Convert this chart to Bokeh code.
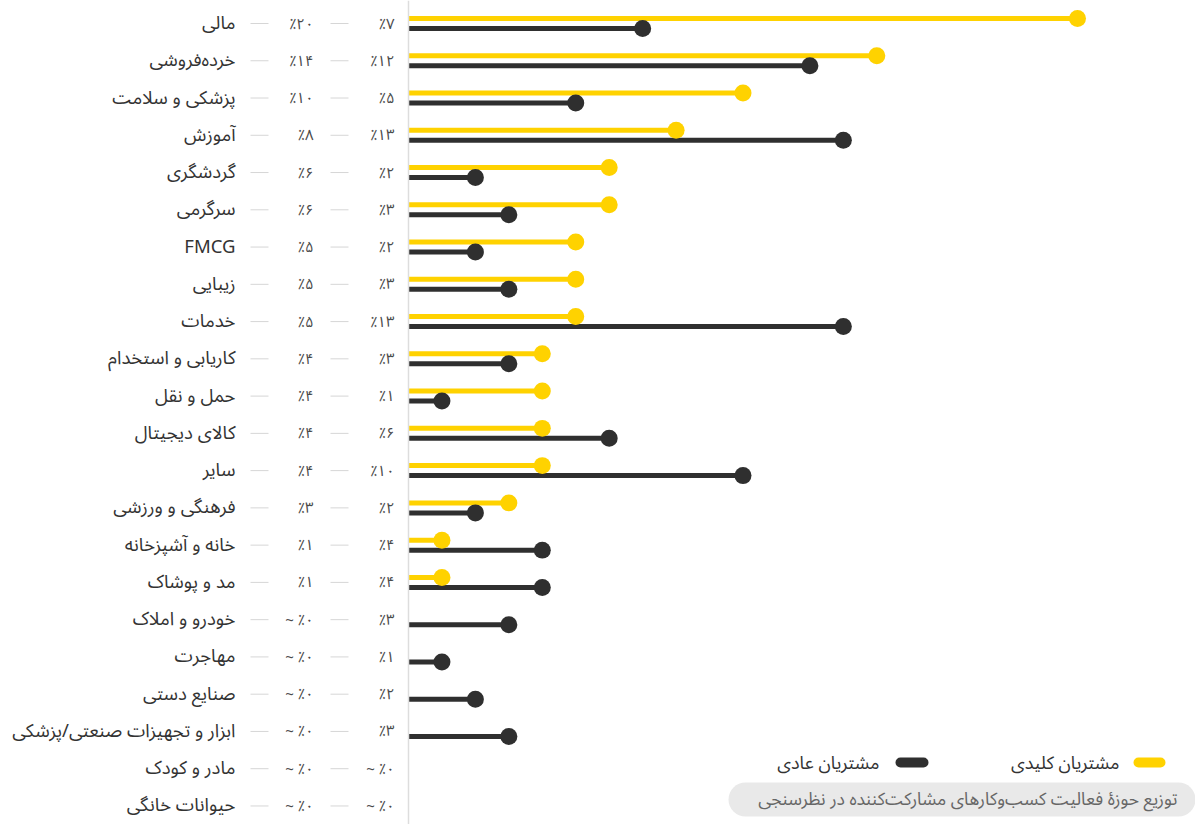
from bokeh.plotting import figure
from bokeh.models import Range1d, Span, Label, BoxAnnotation, ColumnDataSource
from bokeh.core.properties import value
from bokeh.embed import file_html
from bokeh.resources import INLINE

categories = ["مالی", "خرده‌فروشی", "پزشکی و سلامت", "آموزش", "گردشگری", "سرگرمی",
              "FMCG", "زیبایی", "خدمات", "کاریابی و استخدام", "حمل و نقل", "کالای دیجیتال",
              "سایر", "فرهنگی و ورزشی", "خانه و آشپزخانه", "مد و پوشاک", "خودرو و املاک",
              "مهاجرت", "صنایع دستی", "ابزار و تجهیزات صنعتی/پزشکی", "مادر و کودک", "حیوانات خانگی"]
key_values = [20, 14, 10, 8, 6, 6, 5, 5, 5, 4, 4, 4, 4, 3, 1, 1, 0, 0, 0, 0, 0, 0]
regular_values = [7, 12, 5, 13, 2, 3, 2, 3, 13, 3, 1, 6, 10, 2, 4, 4, 3, 1, 2, 3, 0, 0]
legend_labels = ["مشتریان کلیدی", "مشتریان عادی"]
caption = "توزیع حوزهٔ فعالیت کسب‌وکارهای مشارکت‌کننده در نظرسنجی"

YELLOW = "#FFD200"
DARK = "#2f2f2f"
FONT = "Noto Sans Arabic, DejaVu Sans"

W, H = 1195, 824
ORG = 0             # page offset of the canvas
SX = 33.45          # px per percent
RY = 37.26          # px per row
X0 = -(408 - ORG) / SX
Y0 = -(23 - ORG) / RY


def px2x(px):
    return X0 + (px - ORG) / SX


def px2y(py):
    return Y0 + (py - ORG) / RY


FA = str.maketrans("0123456789", "۰۱۲۳۴۵۶۷۸۹")


def pct(n):
    return "~ ٪۰" if n == 0 else "٪" + str(n).translate(FA)


p = figure(width=W, height=H, output_backend="svg", toolbar_location=None,
           x_range=Range1d(X0, X0 + W / SX), y_range=Range1d(Y0 + H / RY, Y0),
           x_axis_location=None, y_axis_location=None, min_border=0,
           outline_line_color=None)
p.grid.visible = False
p.background_fill_color = "white"
p.border_fill_color = "white"

rows = list(range(len(categories)))
off = 5 / RY

src = ColumnDataSource(dict(
    y=rows, cat=categories,
    key_txt=[pct(v) for v in key_values],
    reg_txt=[pct(v) for v in regular_values],
    lx=[px2x(235)] * len(rows), kx=[px2x(313)] * len(rows), rx=[px2x(394)] * len(rows),
    d1a=[px2x(250)] * len(rows), d1b=[px2x(268)] * len(rows),
    d2a=[px2x(330)] * len(rows), d2b=[px2x(348)] * len(rows),
))

key_src = ColumnDataSource(dict(
    y=[r - off for r, v in zip(rows, key_values) if v > 0],
    v=[v for v in key_values if v > 0]))
reg_src = ColumnDataSource(dict(
    y=[r + off for r, v in zip(rows, regular_values) if v > 0],
    v=[v for v in regular_values if v > 0]))

p.add_layout(Span(location=0, dimension="height", line_color="#dddddd", line_width=1.5))

p.segment(x0=0, y0="y", x1="v", y1="y", source=key_src, line_color=YELLOW, line_width=5)
p.segment(x0=0, y0="y", x1="v", y1="y", source=reg_src, line_color=DARK, line_width=5)
p.scatter(x="v", y="y", source=key_src, size=17, fill_color=YELLOW, line_color=None)
p.scatter(x="v", y="y", source=reg_src, size=17, fill_color=DARK, line_color=None)

# dashes between columns
p.segment(x0="d1a", y0="y", x1="d1b", y1="y", source=src, line_color="#d6d6d6", line_width=1)
p.segment(x0="d2a", y0="y", x1="d2b", y1="y", source=src, line_color="#d6d6d6", line_width=1)

p.text(x="lx", y="y", text="cat", source=src, text_align="right", text_baseline="middle",
       text_font=value(FONT), text_font_size="18.5px", text_color="#333333")
p.text(x="kx", y="y", text="key_txt", source=src, text_align="right", text_baseline="middle",
       text_font=value(FONT), text_font_size="15px", text_color="#4a4a4a")
p.text(x="rx", y="y", text="reg_txt", source=src, text_align="right", text_baseline="middle",
       text_font=value(FONT), text_font_size="15px", text_color="#4a4a4a")

# legend
ly = px2y(762)
p.segment(x0=[px2x(1138), px2x(900)], y0=[ly, ly], x1=[px2x(1160), px2x(923)], y1=[ly, ly],
          line_color=[YELLOW, DARK], line_width=10, line_cap="round")
for txt, xr in zip(legend_labels, [1119, 879]):
    p.add_layout(Label(x=px2x(xr), y=ly, text=txt, text_align="right", text_baseline="middle",
                       text_font=FONT, text_font_size="18px", text_color="#333333"))

# caption
p.add_layout(BoxAnnotation(left=px2x(728), right=px2x(1195), top=px2y(782), bottom=px2y(816),
                           fill_color="#e9e9e9", fill_alpha=1, line_color=None, border_radius=17))
p.add_layout(Label(x=px2x(1177), y=px2y(799), text=caption, text_align="right",
                   text_baseline="middle", text_font=FONT, text_font_size="17.5px",
                   text_color="#666666"))

open("out.html", "w").write(file_html(p, INLINE))
